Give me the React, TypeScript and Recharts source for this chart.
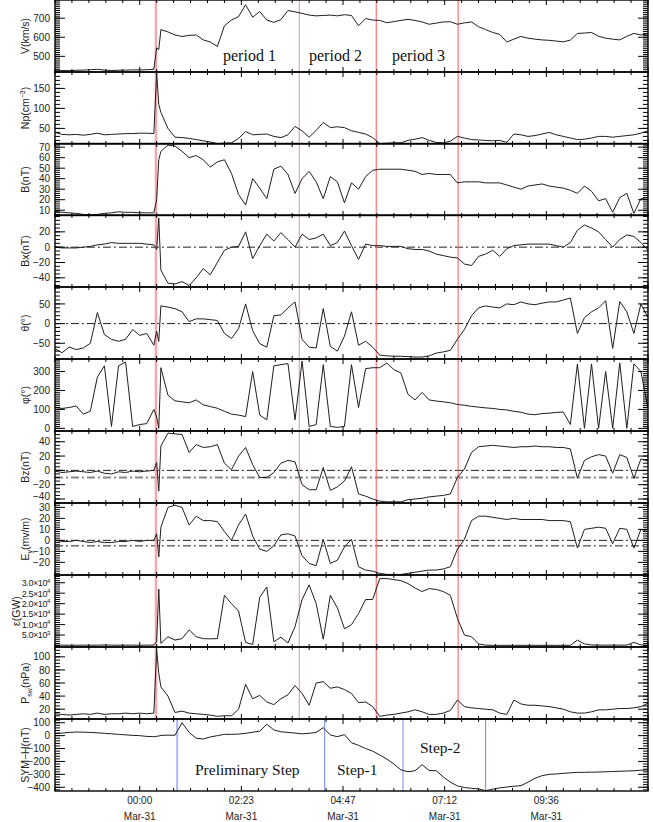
import React from 'react'
import { LineChart, Line, XAxis, YAxis, ReferenceLine } from 'recharts'

// minutes from 00:00 Mar-31 (negative = Mar-30)
const TIME = [
  -120, -110, -100, -90, -80, -70, -60, -50, -40, -30, -20, -10, 0, 10, 20,
  24, 27,
  30, 40, 50, 60, 70, 80, 90, 100, 110, 120,
  130, 140, 150, 160, 170, 180, 190, 200, 210, 220,
  230, 240, 250, 260, 270, 280, 290, 300, 310, 320,
  330, 340, 350, 360, 370, 380, 390, 400, 410, 420,
  430, 440, 450, 460, 470, 480, 490, 500, 510, 520,
  530, 540, 550, 560, 570, 580, 590, 600, 610, 620,
  630, 640, 650, 660, 670, 680, 690, 700, 710, 720,
]

const V = [
  428, 426, 425, 427, 428, 430, 432, 428, 426, 427, 428, 429, 429, 430, 432,
  545, 535,
  640, 628, 612, 604, 610, 612, 586, 575, 552, 660,
  690, 708, 770, 705, 735, 690, 678, 692, 740, 733,
  725, 716, 712, 714, 716, 712, 718, 714, 660, 698,
  690, 688, 676, 682, 688, 694, 688, 680, 668, 674,
  680, 681, 668, 675, 680, 655, 640, 625, 615, 575,
  590, 604, 595, 590, 586, 584, 580, 576, 585, 620,
  622, 625, 605, 595, 590, 586, 605, 620, 612, 618,
]

const NP = [
  40, 35, 34, 35, 33, 35, 38, 34, 35, 36, 37, 37, 38, 38, 37,
  188, 110,
  90, 50, 28, 27, 25, 22, 19, 16, 12, 13,
  14, 25, 42, 34, 35, 36, 30, 27, 34, 55,
  44, 28, 45, 65, 52, 54, 52, 44, 40, 36,
  27, 12, 13, 14, 14, 20, 23, 27, 20, 15,
  14, 18, 30, 26, 22, 21, 20, 19, 20, 15,
  36, 34, 30, 32, 36, 40, 34, 30, 26, 22,
  23, 26, 30, 30, 28, 30, 32, 34, 38, 44,
]

const B = [
  9, 8, 7.5, 7, 6, 5.5, 6, 7, 7.5, 8.5, 8, 8, 7.5, 7.5, 7.5,
  20, 58,
  66, 72, 71, 66, 60, 62, 58, 51, 56, 58,
  45, 25, 15, 40, 31, 21, 49, 52, 44, 26,
  40, 47, 37, 21, 42, 37, 17, 36, 30, 42,
  48, 49, 49, 49, 49, 48, 47, 44, 45, 44,
  44, 44, 36, 37, 37, 37, 36, 36, 36, 34,
  32, 30, 33, 34, 35, 33, 32, 31, 29, 26,
  33, 28, 19, 21, 8, 22, 26, 7, 21, 22,
]

const BX = [
  0, -1, -1, -1, 0, 1, 3, 4, 6, 5, 5, 5, 5, 4, 3,
  -3, 38,
  -30, -47, -48, -45, -50, -40, -28, -36, -20, -4,
  0, 1, 20, -15, 2, 17, 8, 19, 10, 0,
  17, 10, 12, 17, 2, 6, 21, 2, -16, 4,
  2, 2, 1, 1, 1, -2, -3, -3, -5, -9,
  -11, -13, -14, -22, -24, -12, -9, -4, -12, -2,
  2, 3, 4, 4, 4, 4, 2, 0, 6, 22,
  29, 25, 20, 10, 0, 10, 16, 14, 6, -4,
]

const THETA = [
  -64, -74, -60, -66, -62, -50, 28, -28, -40, -45, -40, -15, -30, -25, -55,
  -20, -45,
  45, 42, 38, 30, 5, 12, 12, 10, 8, -25,
  -38, -13, 50, -18, -51, -60, 20, 22, 40, 55,
  -40, -60, -62, 38, -58, -70, -32, 30, -55, -45,
  -60, -80, -82, -83, -83, -84, -85, -85, -82, -75,
  -72, -68, -40, -15, 20, 40, 45, 42, 40, 50,
  48, 55, 50, 48, 52, 55, 55, 60, 65, -25,
  15, 30, 40, 58, -63, 56, 30, -25, 50, 15,
]

const PHI = [
  110, 105, 110, 118, 75, 90, 270, 330, 10, 330, 350, 10, 20, 25, 100,
  60, 0,
  320, 175, 145, 140, 135, 150, 124, 115, 106, 90,
  75, 70, 62, 300, 70, 45, 330, 336, 342, 45,
  355, 10, 20, 336, 10, 5, 10, 336, 110, 315,
  320, 320, 345, 310, 292, 180, 150, 190, 150, 144,
  140, 135, 126, 122, 116, 112, 108, 105, 100, 97,
  90, 85, 75, 72, 78, 80, 84, 86, 20, 340,
  0, 340, 0, 300, 0, 345, 0, 340, 300, 105,
]

const BZ = [
  -1, -3, -2, -1, -2, -3, -1, -4, -5, -2, -3, -1, -2, -1, 0,
  11, -29,
  34, 52, 51, 50, 25, 36, 32, 33, 36, 10,
  1, 20, 32, 8, -10, -10, -3, 10, 14, 12,
  -20, -27, -27, 4, -28, -23, -15, 5, -33, -36,
  -40, -43, -44, -44, -44, -41, -40, -39, -37, -36,
  -35, -33, -10, 2, 25, 33, 34, 35, 34, 33,
  32, 33, 33, 34, 33, 33, 32, 32, 30, -11,
  14, 19, 22, 20, -4, 22, 18, -11, 16, 13,
]

const EY = [
  0, -1, -1, 0, -1, -2, -1, -2, -2, -1, -1, 0, -1, 0, 0,
  6, -15,
  12, 30, 32, 30, 14, 22, 18, 18, 17, 8,
  0, 14, 24, 4, -8, -10, -5, 5, 6, 4,
  -14, -21, -23, 1, -21, -18, -6, 1, -24, -27,
  -28, -30, -31, -31, -31, -30, -29, -28, -27, -27,
  -26, -24, -8, 1, 18, 22, 22, 21, 20, 19,
  20, 19, 19, 19, 19, 18, 18, 18, 17, -7,
  10, 11, 12, 11, -3, 11, 10, -7, 10, 8,
]

const EPS = [
  200, 200, 150, 150, 200, 150, 200, 250, 200, 150, 200, 200, 150, 200, 200,
  2000, 27000,
  1000, 4200, 2600, 3300, 7500, 4200, 3300, 3200, 3300, 24000,
  20000, 16500, 1500, 500, 23000, 28000, 1800, 4000, 1200, 9000,
  22000, 29000, 20000, 3000, 24000, 18000, 8000, 10000, 15300, 22000,
  22000, 32000, 32000, 31500, 31000, 29600, 27500, 25800, 27200, 26800,
  25800, 24000, 13000, 5000, 4200, 800, 200, 100, 100, 100,
  100, 100, 100, 100, 100, 100, 100, 100, 100, 2600,
  800, 300, 200, 200, 200, 200, 200, 1500, 300, 200,
]

const PSW = [
  13, 12, 11, 12, 13, 12, 14, 12, 13, 13, 14, 13, 14, 13, 14,
  110, 75,
  54, 40, 15, 17, 14, 13, 12, 11, 9, 10,
  10, 20, 58, 36, 41, 31, 27, 36, 42, 56,
  44, 26, 60, 62, 52, 54, 50, 44, 30, 31,
  24, 9, 11, 12, 14, 16, 19, 16, 12, 12,
  14, 18, 34, 24, 22, 21, 20, 19, 14, 12,
  34, 28, 26, 26, 25, 24, 22, 20, 16, 14,
  14, 16, 19, 19, 20, 21, 21, 22, 24, 29,
]

const SYMH = [
  15, 20, 25, 28, 27, 25, 22, 18, 14, 10, 6, 2, 0, -6, -8,
  -5, -3,
  2, 4, 3, 100, 25, -20, -26, -10, 0, 10,
  10, 12, 18, 26, 35, 88, 45, 30, 25, 20,
  14, 18, 25, 62, 5, -8, 8, -55, -75, -100,
  -120, -150, -181, -220, -265, -280, -272, -225, -270, -272,
  -320, -360, -390, -402, -408, -413, -426, -415, -405, -398,
  -392, -388, -360, -330, -310, -300, -297, -292, -288, -285,
  -284, -283, -282, -280, -278, -276, -274, -272, -268, -265,
]

const TICK_TIMES = [0, 144, 288, 432, 576]
const TICK_LABELS = ['00:00', '02:23', '04:47', '07:12', '09:36']
const DATE_LABEL = 'Mar-31'

// boundaries (red) and SYM-H step markers (blue), minutes
const RED_EVENTS = [23, 226, 335, 451]
const BLUE_EVENTS = [53, 262, 373, 490]

const PERIODS = ['period 1', 'period 2', 'period 3']
const STEPS = ['Preliminary Step', 'Step-1', 'Step-2']

const ROWS = TIME.map((t, i) => ({
  t,
  v: V[i],
  np: NP[i],
  b: B[i],
  bx: BX[i],
  theta: THETA[i],
  phi: PHI[i],
  bz: BZ[i],
  ey: EY[i],
  eps: EPS[i],
  psw: PSW[i],
  symh: SYMH[i],
}))

const range = (a: number, b: number, s: number) => {
  const r: number[] = []
  for (let v = a; v <= b + 1e-9; v += s) r.push(Math.round(v * 1000) / 1000)
  return r
}

const X_TICKS = range(-120, 720, 24)

const PLOT_L = 55
const PLOT_R = 648
const PH = 72
const MT = 4
const TOPS = [0, 72, 143.5, 215, 287, 359, 431, 503, 575, 647, 719]
const SANS = 'Liberation Sans, Arial, Helvetica, sans-serif'
const SERIF = 'Liberation Serif, Times New Roman, serif'
const DASHDOT = '8 3 2 3'

const sup = (v: number) => {
  const e = Math.floor(Math.log10(v))
  const m = (v / 10 ** e).toFixed(1)
  return (
    <>
      {m}×10<tspan dy={-3.5} fontSize={6}>{e}</tspan>
    </>
  )
}

type Cfg = {
  key: string
  domain: [number, number]
  major: number[]
  minor: number[]
  fmt?: (v: number) => React.ReactNode
  small?: boolean
  nudge?: Record<number, number>
  hlines?: { y: number; color: string; w: number }[]
}

const PANELS: Cfg[] = [
  { key: 'v', domain: [418, 795], major: [500, 600, 700], minor: range(420, 790, 10) },
  { key: 'np', domain: [11, 191], major: [50, 100, 150], minor: range(20, 190, 10) },
  { key: 'b', domain: [4.5, 73], major: [10, 20, 30, 40, 50, 60, 70], minor: range(6, 72, 2) },
  {
    key: 'bx', domain: [-52, 42], major: [-40, -20, 0, 20], minor: range(-50, 40, 5),
    hlines: [{ y: 0, color: '#222', w: 1 }],
  },
  {
    key: 'theta', domain: [-90, 93], major: [-50, 0, 50], minor: range(-90, 90, 10),
    hlines: [{ y: 0, color: '#222', w: 1 }],
  },
  { key: 'phi', domain: [-14, 366], major: [0, 100, 200, 300], minor: range(0, 360, 10) },
  {
    key: 'bz', domain: [-45.6, 55], major: [-40, -20, 0, 20, 40], minor: range(-45, 55, 5),
    nudge: { [-40]: -3 },
    hlines: [{ y: 0, color: '#222', w: 1 }, { y: -10, color: '#888', w: 2 }],
  },
  {
    key: 'ey', domain: [-31.5, 34], major: [-20, -10, 0, 10, 20, 30], minor: range(-30, 34, 2),
    hlines: [{ y: 0, color: '#222', w: 1 }, { y: -5, color: '#222', w: 1 }],
  },
  {
    key: 'eps', domain: [-700, 33700], major: [5000, 10000, 15000, 20000, 25000, 30000],
    minor: range(0, 33000, 1000), fmt: sup, small: true,
  },
  { key: 'psw', domain: [5, 115], major: [20, 40, 60, 80, 100], minor: range(5, 115, 5) },
  { key: 'symh', domain: [-429, 129], major: [-400, -300, -200, -100, 0, 100], minor: range(-420, 120, 20) },
]

const TITLES: React.ReactNode[] = [
  'V(km/s)',
  <>Np(cm<tspan dy={-4} fontSize={7}>−3</tspan><tspan dy={4}>)</tspan></>,
  'B(nT)',
  'Bx(nT)',
  'θ(°)',
  'φ(°)',
  'Bz(nT)',
  <>E<tspan dy={3} fontSize={7}>y</tspan><tspan dy={-3}>(mv/m)</tspan></>,
  'ε(GW)',
  <>P<tspan dy={3} fontSize={7}>sw</tspan><tspan dy={-3}>(nPa)</tspan></>,
  'SYM−H(nT)',
]
const TITLE_X = [29, 29, 29, 29, 29, 29, 29, 29, 20, 29, 29]

function YMajor(props: any) {
  const { y, payload, fmt, small, nudge } = props
  const v = payload.value as number
  const dy = (nudge && nudge[v]) || 0
  return (
    <g>
      <line x1={PLOT_L} x2={PLOT_L + 10} y1={y} y2={y} stroke="#000" />
      <line x1={PLOT_R - 10} x2={PLOT_R} y1={y} y2={y} stroke="#000" />
      <text
        x={PLOT_L - 5}
        y={y + dy + (small ? 3.3 : 3.6)}
        textAnchor="end"
        fontSize={small ? 9 : 10}
        letterSpacing={small ? -0.4 : 0}
        fontFamily={SANS}
        fill="#222"
      >
        {fmt ? fmt(v) : String(v).replace('-', '−')}
      </text>
    </g>
  )
}

function YMinor(props: any) {
  const { y } = props
  return (
    <g>
      <line x1={PLOT_L} x2={PLOT_L + 5} y1={y} y2={y} stroke="#000" />
      <line x1={PLOT_R - 5} x2={PLOT_R} y1={y} y2={y} stroke="#000" />
    </g>
  )
}

function XTick(props: any) {
  const { x, payload, last } = props
  const t = payload.value as number
  const major = t % 144 === 0
  const len = major ? 5 : 3
  const bot = MT + PH
  const li = TICK_TIMES.indexOf(t)
  return (
    <g>
      <line x1={x} x2={x} y1={MT} y2={MT + len} stroke="#000" />
      <line x1={x} x2={x} y1={bot} y2={bot - len} stroke="#000" />
      {last && li >= 0 ? (
        <>
          <text x={x} y={bot + 13} textAnchor="middle" fontSize={10} fontFamily={SANS} fill="#222">
            {TICK_LABELS[li]}
          </text>
          <text x={x} y={bot + 28.5} textAnchor="middle" fontSize={10} fontFamily={SANS} fill="#222">
            {DATE_LABEL}
          </text>
        </>
      ) : null}
    </g>
  )
}

function Panel({ cfg, index }: { cfg: Cfg; index: number }) {
  const last = index === PANELS.length - 1
  const mb = last ? 31 : 4
  return (
    <div style={{ position: 'absolute', left: 0, top: TOPS[index] - MT }}>
      <LineChart width={653} height={PH + MT + mb} data={ROWS} margin={{ top: MT - 1, right: 4, bottom: mb - 1, left: 15 }}>
        <XAxis
          xAxisId="b"
          dataKey="t"
          type="number"
          domain={[-120, 720]}
          ticks={X_TICKS}
          interval={0}
          height={1}
          tickLine={false}
          axisLine={false}
          allowDataOverflow
          tick={(p: any) => <XTick {...p} last={last} />}
        />
        <XAxis
          xAxisId="t"
          orientation="top"
          dataKey="t"
          type="number"
          domain={[-120, 720]}
          height={1}
          tick={false}
          tickLine={false}
          axisLine={false}
          allowDataOverflow
        />
        <YAxis
          yAxisId="l"
          type="number"
          domain={cfg.domain}
          ticks={cfg.major}
          interval={0}
          width={40}
          tickLine={false}
          axisLine={false}
          allowDataOverflow
          tick={(p: any) => <YMajor {...p} fmt={cfg.fmt} small={cfg.small} nudge={cfg.nudge} />}
        />
        <YAxis
          yAxisId="r"
          orientation="right"
          type="number"
          domain={cfg.domain}
          ticks={cfg.minor}
          interval={0}
          width={1}
          tickLine={false}
          axisLine={false}
          allowDataOverflow
          tick={(p: any) => <YMinor {...p} />}
        />
        {(cfg.hlines ?? []).map((h) => (
          <ReferenceLine
            key={h.y}
            xAxisId="b"
            yAxisId="l"
            y={h.y}
            stroke={h.color}
            strokeWidth={h.w}
            strokeDasharray={DASHDOT}
          />
        ))}
        {!last &&
          RED_EVENTS.map((t, i) => (
            <ReferenceLine
              key={t}
              xAxisId="b"
              yAxisId="l"
              x={t}
              stroke={i === 0 ? '#f6a8a8' : i === 1 ? '#cf9a9a' : '#ff5656'}
              strokeWidth={i === 0 ? 2.5 : 1}
            />
          ))}
        {last &&
          BLUE_EVENTS.map((t, i) => (
            <ReferenceLine
              key={t}
              xAxisId="b"
              yAxisId="l"
              x={t}
              stroke={i === 0 ? '#aab8f6' : i === 2 ? '#a2b2f2' : '#7088ee'}
              strokeWidth={i === 0 ? 2 : i === 2 ? 1.5 : 1}
            />
          ))}
        <Line
          xAxisId="b"
          yAxisId="l"
          type="linear"
          dataKey={cfg.key}
          stroke="#1e1e1e"
          strokeWidth={1}
          dot={false}
          isAnimationActive={false}
        />
      </LineChart>
    </div>
  )
}

export default function App() {
  return (
    <div style={{ position: 'absolute', left: 0, top: 0, width: 653, height: 822, background: '#fff', overflow: 'hidden' }}>
      {PANELS.map((cfg, i) => (
        <Panel key={cfg.key} cfg={cfg} index={i} />
      ))}
      <svg width={653} height={822} style={{ position: 'absolute', left: 0, top: 0, pointerEvents: 'none' }}>
        {TOPS.map((top, i) => (
          <rect
            key={i}
            x={PLOT_L}
            y={top}
            width={PLOT_R - PLOT_L}
            height={PH}
            fill="none"
            stroke="#000"
            strokeWidth={1.4}
          />
        ))}
        {TITLES.map((title, i) => {
          const cy = TOPS[i] + 36
          const x = TITLE_X[i]
          return (
            <text
              key={i}
              x={x}
              y={cy}
              transform={`rotate(-90, ${x}, ${cy})`}
              textAnchor="middle"
              fontSize={10.5}
              fontFamily={SANS}
              fill="#222"
            >
              {title}
            </text>
          )
        })}
        <text x={223} y={61} fontSize={16} fontFamily={SERIF} fill="#111">{PERIODS[0]}</text>
        <text x={309} y={61} fontSize={16} fontFamily={SERIF} fill="#111">{PERIODS[1]}</text>
        <text x={392} y={61} fontSize={16} fontFamily={SERIF} fill="#111">{PERIODS[2]}</text>
        <text x={195} y={775} fontSize={15.5} fontFamily={SERIF} fill="#111">{STEPS[0]}</text>
        <text x={337} y={775} fontSize={15.5} fontFamily={SERIF} fill="#111">{STEPS[1]}</text>
        <text x={420} y={753} fontSize={15.5} fontFamily={SERIF} fill="#111">{STEPS[2]}</text>
      </svg>
    </div>
  )
}
